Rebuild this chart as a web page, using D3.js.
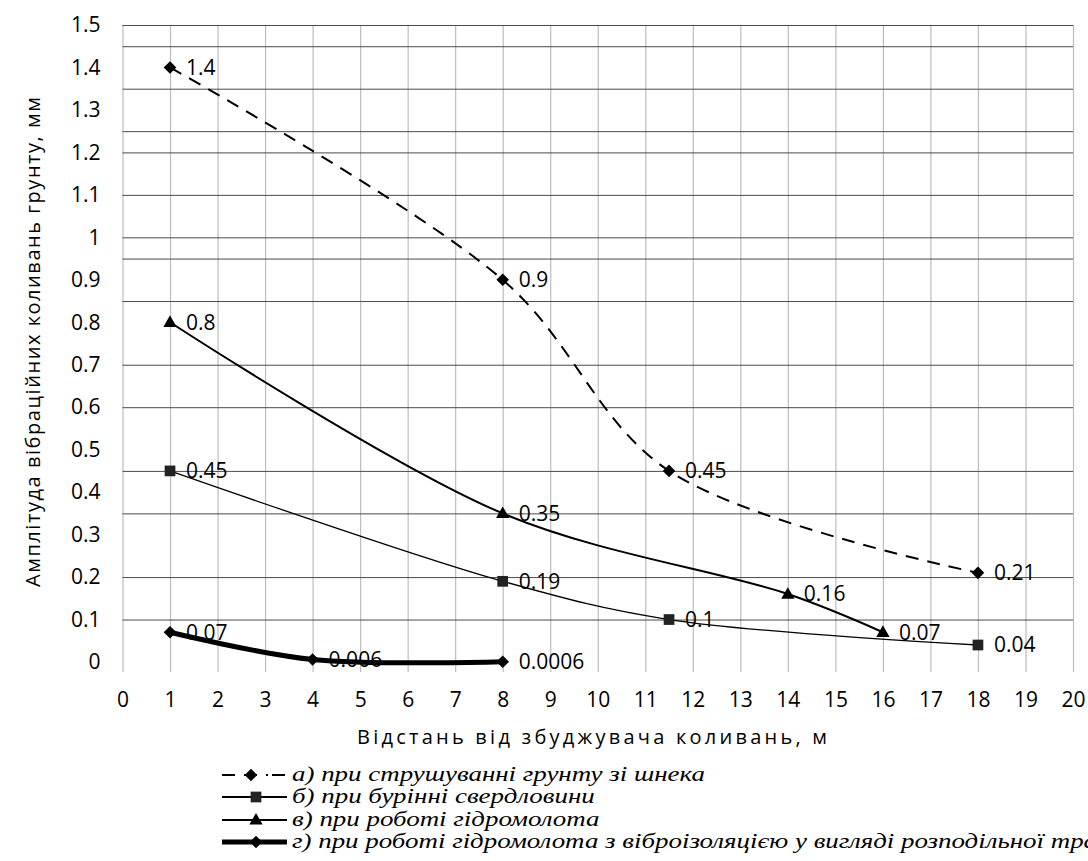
<!DOCTYPE html>
<html>
<head>
<meta charset="utf-8">
<script src="https://cdn.jsdelivr.net/npm/d3@7"></script>
<style>
  body { margin: 0; background: #fff; }
  svg { display: block; }
</style>
</head>
<body>
<svg id="chart" width="1088" height="861"></svg>
<script>
// tick labels
const xTickValues = [0, 1, 2, 3, 4, 5, 6, 7, 8, 9, 10, 11, 12, 13, 14, 15, 16, 17, 18, 19, 20];
const yTickValues = [0, 0.1, 0.2, 0.3, 0.4, 0.5, 0.6, 0.7, 0.8, 0.9, 1, 1.1, 1.2, 1.3, 1.4, 1.5];
// horizontal grid lines as they appear in the source picture
const yGridValues = [1.5, 1.45, 1.35, 1.25, 1.2, 1.1, 1, 0.95, 0.85, 0.7, 0.6, 0.45, 0.35, 0.2, 0.1];

// series: distance (m) and amplitude (mm)
const distA = [1, 8, 11.5, 18];
const ampA = [1.4, 0.9, 0.45, 0.21];
const distB = [1, 8, 11.5, 18];
const ampB = [0.45, 0.19, 0.1, 0.04];
const distC = [1, 8, 14, 16];
const ampC = [0.8, 0.35, 0.16, 0.07];
const distD = [1, 4, 8];
const ampD = [0.07, 0.006, 0.0006];

const seriesNames = [
  'а) при струшуванні грунту зі шнека',
  'б) при бурінні свердловини',
  'в) при роботі гідромолота',
  'г) при роботі гідромолота з віброізоляцією у вигляді розподільної траншеї'
];

const xTitle = 'Відстань від збуджувача коливань, м';
const yTitle = 'Амплітуда вібраційних коливань грунту, мм';

const svg = d3.select('#chart');
const margin = {left: 122.5, right: 1073, top: 25, bottom: 662};
const labelFont = 'Open Sans, sans-serif';

const x = d3.scaleLinear().domain([0, 20]).range([margin.left, margin.right]);
const y = d3.scaleLinear().domain([0, 1.5]).range([margin.bottom, margin.top]);

// custom symbols
const diamond = {
  draw(ctx, size) {
    const r = Math.sqrt(size / 2);
    ctx.moveTo(0, -r); ctx.lineTo(r, 0); ctx.lineTo(0, r); ctx.lineTo(-r, 0); ctx.closePath();
  }
};
const square = {
  draw(ctx, size) {
    const h = Math.sqrt(size) / 2;
    ctx.rect(-h, -h, h * 2, h * 2);
  }
};
const triangle = {
  draw(ctx, size) {
    const s = Math.sqrt(size) * 1.3;
    const h = s * Math.sqrt(3) / 2;
    ctx.moveTo(0, -h * 0.6); ctx.lineTo(s / 2, h * 0.4); ctx.lineTo(-s / 2, h * 0.4); ctx.closePath();
  }
};

const series = [
  {dist: distA, amp: ampA, width: 2, dash: '13,9', symbol: diamond, size: 80, fill: '#000'},
  {dist: distB, amp: ampB, width: 1.3, dash: null, symbol: square, size: 115, fill: '#222'},
  {dist: distC, amp: ampC, width: 2, dash: null, symbol: triangle, size: 105, fill: '#000'},
  {dist: distD, amp: ampD, width: 5, dash: null, symbol: diamond, size: 80, fill: '#000'}
];

// vertical grid
const xGrid = d3.axisBottom(x).tickValues(xTickValues)
  .tickSize(-(margin.bottom + 10 - margin.top)).tickFormat('');
svg.append('g')
  .attr('transform', `translate(0,${margin.bottom + 10})`)
  .call(xGrid)
  .call(g => g.select('.domain').remove())
  .call(g => g.selectAll('line').attr('stroke', '#bdbdbd').attr('stroke-width', 1.2));

// horizontal grid
const yGrid = d3.axisLeft(y).tickValues(yGridValues)
  .tickSize(-(margin.right - margin.left)).tickFormat('');
svg.append('g')
  .attr('transform', `translate(${margin.left},0)`)
  .call(yGrid)
  .call(g => g.select('.domain').remove())
  .call(g => g.selectAll('line').attr('stroke', '#4a4a4a').attr('stroke-width', 1));

// y tick labels
const yAxis = d3.axisLeft(y).tickValues(yTickValues).tickSize(0).tickPadding(22)
  .tickFormat(d => String(d));
svg.append('g')
  .attr('transform', `translate(${margin.left},0)`)
  .call(yAxis)
  .call(g => g.select('.domain').remove())
  .call(g => g.selectAll('text')
    .attr('font-family', labelFont).attr('font-size', 21).attr('fill', '#000'));

// x tick labels
const xAxis = d3.axisBottom(x).tickValues(xTickValues).tickSize(0).tickPadding(30)
  .tickFormat(d => String(d));
svg.append('g')
  .attr('transform', `translate(0,${margin.bottom})`)
  .call(xAxis)
  .call(g => g.select('.domain').remove())
  .call(g => g.selectAll('text')
    .attr('font-family', labelFont).attr('font-size', 21).attr('fill', '#000'));

// axis titles
svg.append('text')
  .attr('x', 357).attr('y', 744)
  .attr('font-family', labelFont).attr('font-size', 20).attr('fill', '#000')
  .attr('textLength', 470).attr('lengthAdjust', 'spacing')
  .text(xTitle);

svg.append('text')
  .attr('transform', 'translate(40,587) rotate(-90)')
  .attr('font-family', labelFont).attr('font-size', 20).attr('fill', '#000')
  .attr('textLength', 490).attr('lengthAdjust', 'spacing')
  .text(yTitle);

// lines
const line = d3.line().curve(d3.curveCatmullRom.alpha(0.5))
  .x(d => x(d[0])).y(d => y(d[1]));

const plot = svg.append('g');
series.forEach(s => {
  const pts = s.dist.map((d, i) => [d, s.amp[i]]);
  plot.append('path')
    .datum(pts)
    .attr('d', line)
    .attr('fill', 'none')
    .attr('stroke', '#000')
    .attr('stroke-width', s.width)
    .attr('stroke-dasharray', s.dash);
});

// markers and labels
series.forEach(s => {
  const pts = s.dist.map((d, i) => [d, s.amp[i]]);
  plot.selectAll(null)
    .data(pts)
    .join('path')
    .attr('transform', d => `translate(${x(d[0])},${y(d[1])})`)
    .attr('d', d3.symbol().type(s.symbol).size(s.size))
    .attr('fill', s.fill);
  plot.selectAll(null)
    .data(pts)
    .join('text')
    .attr('x', d => x(d[0]) + 16)
    .attr('y', d => y(d[1]))
    .attr('dy', '0.35em')
    .attr('font-family', labelFont)
    .attr('font-size', 21)
    .attr('fill', '#000')
    .text(d => String(d[1]));
});

// legend
const legendRows = [775, 797, 820, 842];
const legend = svg.append('g');
series.forEach((s, i) => {
  const ly = legendRows[i];
  const row = legend.append('g');
  row.append('line')
    .attr('x1', 222).attr('x2', 287)
    .attr('y1', ly).attr('y2', ly)
    .attr('stroke', '#000')
    .attr('stroke-width', i === 3 ? 5 : 2)
    .attr('stroke-dasharray', s.dash ? '13,9,13,9,2,4' : null);
  row.append('path')
    .attr('transform', `translate(${i === 0 ? 251 : 256},${ly})`)
    .attr('d', d3.symbol().type(s.symbol).size(s.size))
    .attr('fill', s.fill);
});

const legendTexts = legend.selectAll('text.name')
  .data(seriesNames)
  .join('text')
  .attr('class', 'name')
  .attr('y', (d, i) => legendRows[i] + 6)
  .attr('font-family', 'Liberation Serif, serif')
  .attr('font-style', 'italic')
  .attr('font-size', 22)
  .attr('fill', '#000')
  .text(d => d);

const firstWidth = legendTexts.node().getComputedTextLength();
const sx = 413 / firstWidth;
legendTexts.attr('transform', `translate(292,0) scale(${sx},1)`);
</script>
</body>
</html>
